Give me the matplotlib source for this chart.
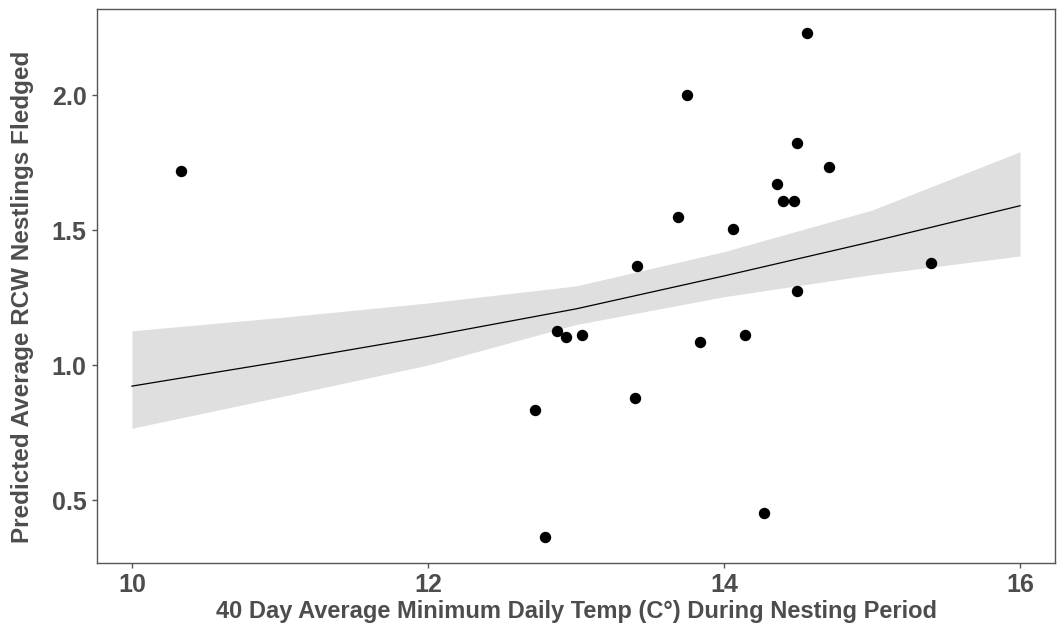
import numpy as np
import matplotlib
matplotlib.use('Agg')
import matplotlib.pyplot as plt

# observed nest values
temp = [10.33, 12.72, 12.79, 12.87, 12.93, 13.04, 13.40, 13.41, 13.69, 13.75,
        13.84, 14.06, 14.14, 14.27, 14.36, 14.40, 14.47, 14.49, 14.49, 14.56,
        14.71, 15.40]
fledged = [1.72, 0.833, 0.362, 1.126, 1.103, 1.112, 0.877, 1.367, 1.549, 2.00,
           1.086, 1.505, 1.112, 0.454, 1.671, 1.606, 1.606, 1.823, 1.274, 2.23,
           1.732, 1.378]

# model prediction with confidence band
pred_x = [10, 11, 12, 13, 14, 15, 16]
pred_fit = [0.922, 1.012, 1.106, 1.208, 1.330, 1.457, 1.590]
pred_hi = [1.127, 1.176, 1.230, 1.293, 1.420, 1.574, 1.790]
pred_lo = [0.766, 0.882, 1.000, 1.150, 1.253, 1.335, 1.404]

xticks = [10, 12, 14, 16]
yticks = [0.5, 1.0, 1.5, 2.0]

plt.rcParams['font.family'] = ['Liberation Sans', 'DejaVu Sans']

fig = plt.figure(figsize=(10.61, 6.34), dpi=100)
ax = fig.add_axes([97 / 1061, 1 - 563 / 634, 958 / 1061, 554 / 634])

ax.fill_between(pred_x, pred_lo, pred_hi, color='#dfdfdf', lw=0, zorder=1)
ax.plot(pred_x, pred_fit, color='black', lw=0.9, zorder=2)
ax.plot(temp, fledged, 'o', color='black', ms=7.2, zorder=3)

ax.set_xlim(9.764, 16.236)
ax.set_ylim(0.267, 2.3185)
ax.set_xticks(xticks)
ax.set_xticklabels([str(t) for t in xticks])
ax.set_yticks(yticks)
ax.set_yticklabels(['%.1f' % t for t in yticks])

for s in ax.spines.values():
    s.set_color('#555555')
    s.set_linewidth(1.0)

ax.tick_params(axis='both', length=3.5, width=1, color='#555555',
               labelsize=18, labelcolor='#4d4d4d', pad=4)
for lab in ax.get_xticklabels() + ax.get_yticklabels():
    lab.set_fontweight('bold')

ax.set_xlabel('40 Day Average Minimum Daily Temp (C°) During Nesting Period',
              fontsize=17, fontweight='bold', color='#4d4d4d')
ax.set_ylabel('Predicted Average RCW Nestlings Fledged',
              fontsize=17.5, fontweight='bold', color='#4d4d4d')
ax.xaxis.set_label_coords(0.5, -0.066)
ax.yaxis.set_label_coords(-0.066, 0.48)

fig.savefig('out.png', dpi=100)
